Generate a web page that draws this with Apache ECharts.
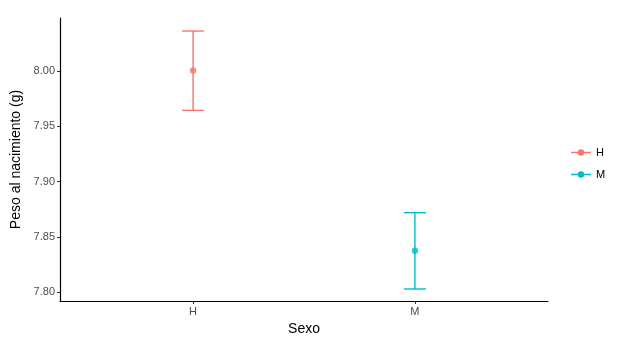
<!DOCTYPE html>
<html><head><meta charset="utf-8">
<script src="https://cdn.jsdelivr.net/npm/echarts@6/dist/echarts.min.js"></script>
<style>html,body{margin:0;padding:0;background:#fff}#c{width:619px;height:342px}</style>
</head><body><div id="c"></div>
<script>
const categories = ['H', 'M'];
const means = [8.0006, 7.8373];
const lower = [7.9645, 7.8027];
const upper = [8.0364, 7.8718];
const yTicks = [7.80, 7.85, 7.90, 7.95, 8.00];
const colors = ['#F8766D', '#00BFC4'];

const chart = echarts.init(document.getElementById('c'));
const series = [];
categories.forEach((cat, i) => {
  series.push({
    name: cat, type: 'custom', z: 2,
    itemStyle: { color: colors[i] },
    renderItem: function (params, api) {
      const x = api.value(0), lo = api.value(1), hi = api.value(2);
      const pHi = api.coord([x, hi]), pLo = api.coord([x, lo]);
      const hw = api.size([0.1, 0])[0] / 2;
      const st = { stroke: colors[i], lineWidth: 1.4, fill: null };
      return { type: 'group', children: [
        { type: 'line', shape: { x1: pHi[0], y1: pHi[1], x2: pLo[0], y2: pLo[1] }, style: st },
        { type: 'line', shape: { x1: pHi[0] - hw, y1: pHi[1], x2: pHi[0] + hw, y2: pHi[1] }, style: st },
        { type: 'line', shape: { x1: pLo[0] - hw, y1: pLo[1], x2: pLo[0] + hw, y2: pLo[1] }, style: st }
      ]};
    },
    encode: { x: 0, y: [1, 2] },
    data: [[i + 1, lower[i], upper[i]]],
    silent: true
  });
  series.push({
    name: cat, type: 'scatter', z: 3,
    symbol: 'circle', symbolSize: 6.5,
    itemStyle: { color: colors[i] },
    data: [[i + 1, means[i]]],
    silent: true
  });
});

const legendIcon = 'path://M0,4.3 H20 V5.7 H0 Z M10,1.8 A3.2,3.2 0 1,1 10,8.2 A3.2,3.2 0 1,1 10,1.8 Z';

chart.setOption({
  animation: false,
  grid: { left: 60, right: 71, top: 18, bottom: 41, containLabel: false, outerBoundsMode: 'none' },
  xAxis: {
    type: 'value', min: 0.4, max: 2.6,
    name: 'Sexo', nameLocation: 'middle', nameGap: 21,
    nameTextStyle: { color: '#000', fontSize: 14, fontFamily: 'Liberation Sans, Arial' },
    axisLine: { show: true, lineStyle: { color: '#000', width: 1.2 } },
    axisTick: { show: true, length: 3, lineStyle: { color: '#333' }, customValues: [1, 2] },
    axisLabel: { color: '#4D4D4D', fontSize: 11, fontFamily: 'Liberation Sans, Arial', margin: 5,
      customValues: [1, 2], formatter: v => categories[Math.round(v) - 1] },
    splitLine: { show: false }
  },
  yAxis: {
    type: 'value', min: 7.7918, max: 8.0482,
    name: 'Peso al nacimiento (g)', nameLocation: 'middle', nameGap: 34,
    nameTextStyle: { color: '#000', fontSize: 14, fontFamily: 'Liberation Sans, Arial' },
    axisLine: { show: true, lineStyle: { color: '#000', width: 1.2 } },
    axisTick: { show: true, length: 3, lineStyle: { color: '#333' }, customValues: yTicks },
    axisLabel: { color: '#4D4D4D', fontSize: 11, fontFamily: 'Liberation Sans, Arial', margin: 5,
      customValues: yTicks, formatter: v => v.toFixed(2) },
    splitLine: { show: false }
  },
  legend: {
    orient: 'vertical', left: 566, top: 142,
    itemWidth: 20, itemHeight: 10, itemGap: 11,
    icon: legendIcon,
    data: categories.map((c, i) => ({ name: c, itemStyle: { color: colors[i] } })),
    textStyle: { color: '#000', fontSize: 11, fontFamily: 'Liberation Sans, Arial' },
    selectedMode: false
  },
  series: series
});
</script></body></html>
